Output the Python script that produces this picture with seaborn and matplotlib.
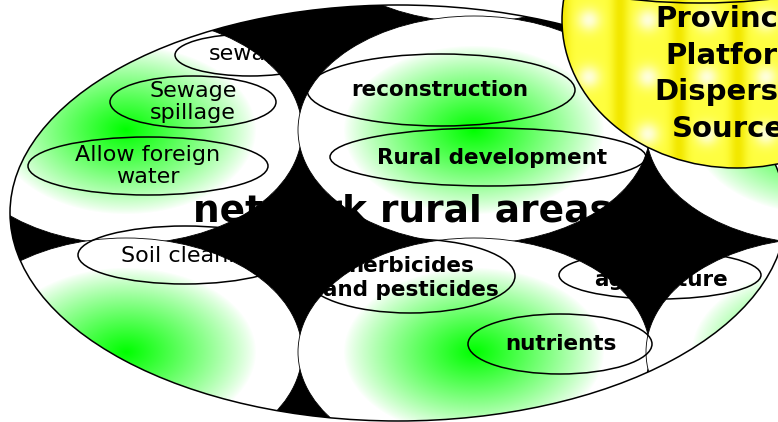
import numpy as np
import matplotlib
matplotlib.use("Agg")
import matplotlib.pyplot as plt
from matplotlib.patches import Ellipse
import seaborn as sns

sns.set_theme(style="white")
plt.rcParams['font.family'] = ['DejaVu Sans']

W, H = 778, 422

# outer field (the big ellipse)
outer_center = (398, 213)
outer_size = (776, 416)

# grid of soft green cells inside the field
cell_x = [126, 474, 822]
cell_y = [-92, 130, 352]
cell_size = (352, 228)

# labels sitting on the cells
label_texts = ["sewage", "Sewage\nspillage", "Allow foreign\nwater", "Soil cleaning",
               "reconstruction", "Rural development", "herbicides\nand pesticides",
               "agriculture", "nutrients"]
label_bold = [False, False, False, False, True, True, True, True, True]
label_centers = [(250, 55), (193, 102), (148, 166), (185, 255), (441, 90),
                 (488, 157), (410, 276), (660, 275), (560, 344)]
label_sizes = [(150, 42), (166, 52), (240, 58), (214, 58), (268, 72),
               (316, 58), (210, 74), (202, 48), (184, 60)]
label_text_pos = [(251, 54), (193, 102), (148, 166), (192, 256), (440, 90),
                  (492, 158), (411, 278), (661, 280), (561, 344)]
label_spacing = [1.2, 1.08, 1.17, 1.2, 1.2, 1.2, 1.21, 1.2, 1.2]

title_text = "network rural areas"
title_pos = (402, 212)

source_text = "Provincial\nPlatform\nDispersed\nSources"
source_center = (737, 20)
source_size = (350, 296)
source_text_pos = (737, 74)

fig = plt.figure(figsize=(W / 100, H / 100), dpi=100)
ax = fig.add_axes([0, 0, 1, 1])
ax.set_xlim(0, W)
ax.set_ylim(H, 0)
ax.axis('off')

yy, xx = np.mgrid[0:H, 0:W] + 0.5
ocx, ocy = outer_center
oa, ob = outer_size[0] / 2, outer_size[1] / 2
inside_outer = ((xx - ocx) / oa) ** 2 + ((yy - ocy) / ob) ** 2 <= 1

outer_clip = Ellipse(outer_center, *outer_size, transform=ax.transData)

green = np.array([0.0, 1.0, 0.0])
white = np.array([1.0, 1.0, 1.0])
ca, cb = cell_size[0] / 2, cell_size[1] / 2

k = 0
for cy in cell_y:
    for cx in cell_x:
        t = np.sqrt(((xx - cx) / ca) ** 2 + ((yy - cy) / cb) ** 2)
        w = (np.clip(1 - t / 0.74, 0, 1) ** 0.85)[..., None]
        rgba = np.zeros((H, W, 4))
        rgba[..., :3] = white * (1 - w) + green * w
        rgba[..., 3] = inside_outer
        im = ax.imshow(rgba, extent=(0, W, H, 0), zorder=1 + k * 0.01,
                       interpolation='nearest')
        im.set_clip_path(Ellipse((cx, cy), *cell_size, transform=ax.transData))
        edge = Ellipse((cx, cy), *cell_size, fill=False, ec='black', lw=0.6,
                       zorder=1.005 + k * 0.01)
        ax.add_patch(edge)
        edge.set_clip_path(outer_clip)
        k += 1

# labels
for txt, bold, c, s, tp, ls in zip(label_texts, label_bold, label_centers,
                                    label_sizes, label_text_pos, label_spacing):
    ax.add_patch(Ellipse(c, *s, fill=False, ec='black', lw=1.1, zorder=3))
    ax.text(tp[0], tp[1], txt, ha='center', va='center', fontsize=15.5 if bold else 16,
            fontweight='bold' if bold else 'normal', linespacing=ls, color='black',
            zorder=3.5)

ax.text(title_pos[0], title_pos[1], title_text, ha='center', va='center',
        fontsize=27, fontweight='bold', color='black', zorder=3.5)

# black gaps between the cells (drawn over the labels)
s = 3
ys, xs = (np.mgrid[0:H * s, 0:W * s] + 0.5) / s
gap = ((xs - ocx) / oa) ** 2 + ((ys - ocy) / ob) ** 2 <= 1
for cy in cell_y:
    for cx in cell_x:
        gap &= ((xs - cx) / ca) ** 2 + ((ys - cy) / cb) ** 2 > 1
alpha = gap.reshape(H, s, W, s).mean(axis=(1, 3))
black = np.zeros((H, W, 4))
black[..., 3] = alpha
ax.imshow(black, extent=(0, W, H, 0), zorder=4, interpolation='nearest')

ax.add_patch(Ellipse(outer_center, *outer_size, fill=False, ec='black', lw=1.1, zorder=5))

# yellow source disc with texture
dx = ((xx - 589 + 29.5) % 59) - 29.5
dy = ((yy - 20 + 28.5) % 57) - 28.5
spot = np.exp(-(dx ** 2 + dy ** 2) / (2 * 8 ** 2)) * 0.8
sdx = ((xx - 620 + 29.5) % 59) - 29.5
stripe = np.exp(-sdx ** 2 / (2 * 6 ** 2))
yel = np.zeros((H, W, 4))
yel[..., 0] = 1 - stripe * 0.05
yel[..., 1] = 1 - stripe * 0.09
yel[..., 2] = 0.25 * (1 - stripe)
yel[..., :3] = yel[..., :3] * (1 - spot[..., None]) + spot[..., None]
yel[..., 3] = 1
yim = ax.imshow(yel, extent=(0, W, H, 0), zorder=6, interpolation='nearest')
yim.set_clip_path(Ellipse(source_center, *source_size, transform=ax.transData))
ax.add_patch(Ellipse(source_center, *source_size, fill=False, ec='black', lw=1.1, zorder=6.5))
ax.add_patch(Ellipse((700, -30), 300, 66, fill=False, ec='black', lw=1.1, zorder=6.5))
ax.text(source_text_pos[0], source_text_pos[1], source_text, ha='center', va='center',
        fontsize=21, fontweight='bold', linespacing=1.38, color='black', zorder=7)

ax.set_xlim(0, W)
ax.set_ylim(H, 0)
ax.set_aspect('auto')
fig.savefig("out.png", dpi=100)
